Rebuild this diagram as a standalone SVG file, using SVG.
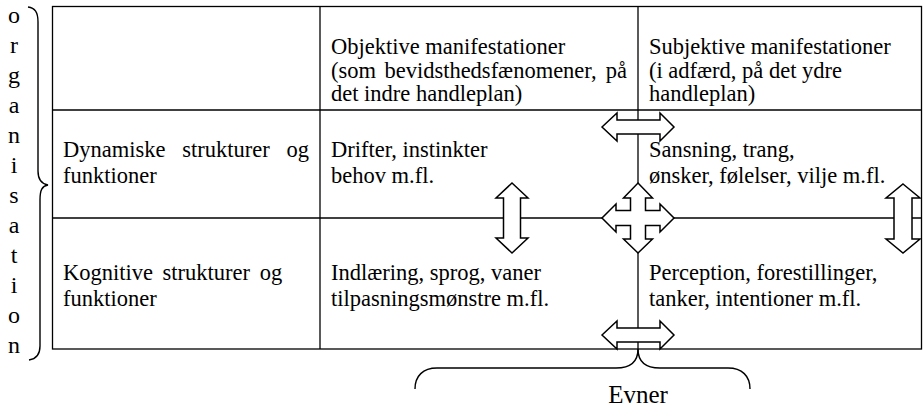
<svg xmlns="http://www.w3.org/2000/svg" width="923" height="408" viewBox="0 0 923 408" font-family="'Liberation Serif', 'Times New Roman', serif">
<style>
text{font-family:"Liberation Serif","Times New Roman",serif;font-size:22.5px;fill:#000}
.big{font-size:24px}
.ev{font-size:25px}
.ln{stroke:#000;stroke-width:1.3;fill:none}
.br{stroke:#000;stroke-width:1.4;fill:none}
.ar{stroke:#000;stroke-width:1.5;fill:#fff;stroke-linejoin:miter}
</style>
<rect width="923" height="408" fill="#fff"/>
<g id="table" class="ln">
<rect x="52.5" y="6.5" width="869" height="342.5"/>
<line x1="320" y1="6.5" x2="320" y2="349"/>
<line x1="638" y1="6.5" x2="638" y2="349"/>
<line x1="52.5" y1="110" x2="921.5" y2="110"/>
<line x1="52.5" y1="218" x2="921.5" y2="218"/>
</g>
<g id="organisation">
<text class="big" text-anchor="middle" x="14" y="23">o</text>
<text class="big" text-anchor="middle" x="14" y="53">r</text>
<text class="big" text-anchor="middle" x="14" y="83">g</text>
<text class="big" text-anchor="middle" x="14" y="113">a</text>
<text class="big" text-anchor="middle" x="14" y="143">n</text>
<text class="big" text-anchor="middle" x="14" y="173">i</text>
<text class="big" text-anchor="middle" x="14" y="203">s</text>
<text class="big" text-anchor="middle" x="14" y="233">a</text>
<text class="big" text-anchor="middle" x="14" y="263">t</text>
<text class="big" text-anchor="middle" x="14" y="293">i</text>
<text class="big" text-anchor="middle" x="14" y="323">o</text>
<text class="big" text-anchor="middle" x="14" y="353">n</text>
<path class="br" d="M28 7 C35 8 38 12 38 22 L38 171 C38 180 42 184 48 185 C42 186 40 190 40 200 L40 346 C40 355 36 359 29 360"/>
</g>
<g id="objektive">
<text x="331" y="54">Objektive manifestationer</text>
<text y="77.5"><tspan x="331">(som</tspan><tspan x="384.4">bevidsthedsfænomener,</tspan><tspan x="605.8">på</tspan></text>
<text x="331" y="101">det indre handleplan)</text>
</g>
<g id="subjektive">
<text x="649" y="54">Subjektive manifestationer</text>
<text x="649" y="77.5">(i adfærd, på det ydre</text>
<text x="649" y="101">handleplan)</text>
</g>
<g id="dynamiske">
<text y="157"><tspan x="63">Dynamiske</tspan><tspan x="182.3">strukturer</tspan><tspan x="286.5">og</tspan></text>
<text x="63" y="183">funktioner</text>
</g>
<g id="drifter">
<text x="331" y="157">Drifter, instinkter</text>
<text x="331" y="183">behov m.fl.</text>
</g>
<g id="sansning">
<text x="649" y="157">Sansning, trang,</text>
<text x="649" y="183">ønsker, følelser, vilje m.fl.</text>
</g>
<g id="kognitive">
<text x="63" y="280" word-spacing="4">Kognitive strukturer og</text>
<text x="63" y="306">funktioner</text>
</g>
<g id="indlaering">
<text x="331" y="280">Indlæring, sprog, vaner</text>
<text x="331" y="306">tilpasningsmønstre m.fl.</text>
</g>
<g id="perception">
<text x="649" y="280">Perception, forestillinger,</text>
<text x="649" y="306">tanker, intentioner m.fl.</text>
</g>
<g id="evner">
<path class="br" d="M638 349 C638 362 646 368 660 368 L728 368 C742 368 750 376 750 389"/>
<path class="br" d="M638 349 C638 362 630 368 616 368 L437 368 C423 368 415 376 415 389"/>
<text class="ev" text-anchor="middle" x="638" y="403">Evner</text>
</g>
<g id="connectors">
<polygon class="ar" points="602,127 617,113 617,120 660,120 660,113 674,127 660,141 660,134 617,134 617,141"/>
<polygon class="ar" points="602,335 617,321 617,328 660,328 660,321 674,335 660,349 660,342 617,342 617,349"/>
<polygon class="ar" points="638,183 652.5,198 645.5,198 645.5,210.5 660,210.5 660,204 674,218 660,232 660,225.5 645.5,225.5 645.5,239 652.5,239 638,253 623.5,239 630.5,239 630.5,225.5 616,225.5 616,232 602,218 616,204 616,210.5 630.5,210.5 630.5,198 623.5,198"/>
<polygon class="ar" points="512,183 528,198 520.5,198 520.5,238 528,238 512,253 496,238 503.5,238 503.5,198 496,198"/>
<polygon class="ar" points="903,184 920,198 912,198 912,239 920,239 903,253 886,239 894,239 894,198 886,198"/>
</g>
</svg>
